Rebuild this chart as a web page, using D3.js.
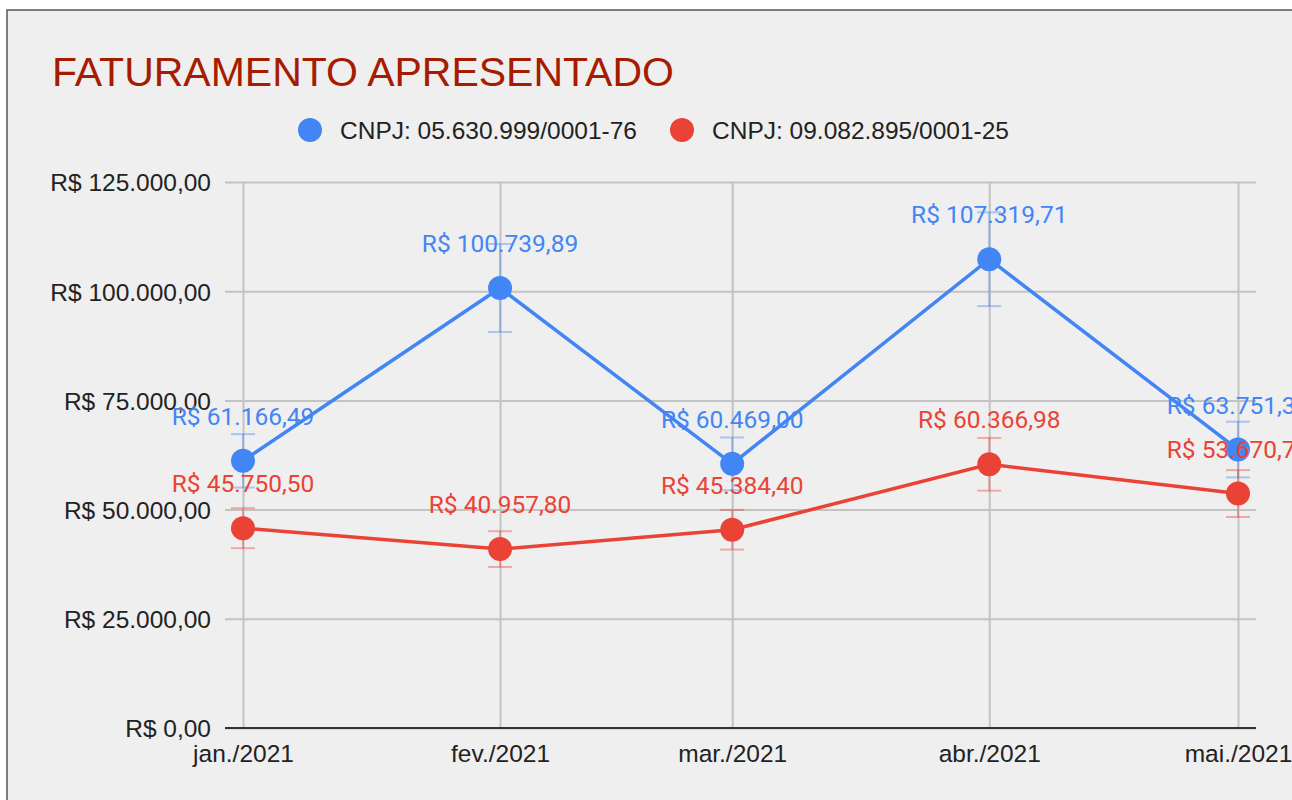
<!DOCTYPE html>
<html>
<head>
<meta charset="utf-8">
<script src="https://cdn.jsdelivr.net/npm/d3@7"></script>
<style>
  body { margin: 0; background: #fff; }
  svg { display: block; }
  .tick text { font-family: "Liberation Sans", Arial, sans-serif; fill: #222; }
</style>
</head>
<body>
<svg class="chart" width="1292" height="800"></svg>
<script>
/**********************
 Data
**********************/
var months = ['jan./2021', 'fev./2021', 'mar./2021', 'abr./2021', 'mai./2021'];
var monthDates = ['2021-01-01', '2021-02-01', '2021-03-01', '2021-04-01', '2021-05-01'];
var seriesNames = ['CNPJ: 05.630.999/0001-76', 'CNPJ: 09.082.895/0001-25'];
var valuesA = [61166.49, 100739.89, 60469.00, 107319.71, 63751.32];
var valuesB = [45750.50, 40957.80, 45384.40, 60366.98, 53670.75];
var yTicks = [0, 25000, 50000, 75000, 100000, 125000];
var colors = ['#4285f4', '#ea4335'];
var errorPct = 0.10;

var series = [valuesA, valuesB].map(function(vals, i) {
  return {
    name: seriesNames[i],
    color: colors[i],
    points: vals.map(function(v, j) {
      return {date: d3.isoParse(monthDates[j]), value: v};
    })
  };
});

/**********************
 SVG setup
**********************/
var svg = d3.select('svg.chart');
var svgWidth = +svg.attr('width');
var svgHeight = +svg.attr('height');

// gray card with a dark border on top/left
svg.append('rect')
  .attr('x', 7).attr('y', 10)
  .attr('width', svgWidth).attr('height', svgHeight)
  .attr('fill', '#efefef')
  .attr('stroke', '#555')
  .attr('stroke-width', 1.5);

var plot = {l: 225, r: 1256, t: 182, b: 728};
var xLeft = 243, xRight = 1238;

var ptBR = d3.formatLocale({
  decimal: ',', thousands: '.', grouping: [3], currency: ['R$ ', '']
});
var money = ptBR.format('$,.2f');

var xScale = d3.scaleTime()
  .domain([d3.isoParse(monthDates[0]), d3.isoParse(monthDates[monthDates.length - 1])])
  .range([xLeft, xRight]);
var yScale = d3.scaleLinear()
  .domain([0, 125000])
  .range([plot.b, plot.t]);

/**********************
 Title and legend
**********************/
svg.append('text')
  .attr('x', 52).attr('y', 86)
  .style('font-family', '"Liberation Sans", Arial, sans-serif')
  .style('font-size', '41px')
  .attr('fill', '#a61c00')
  .text('FATURAMENTO APRESENTADO');

var legendX = [310, 682];
var legend = svg.selectAll('.legend')
  .data(series)
  .enter().append('g')
  .attr('class', 'legend')
  .attr('transform', function(d, i) { return 'translate(' + [legendX[i], 130] + ')'; });
legend.append('circle')
  .attr('r', 12)
  .attr('fill', function(d) { return d.color; });
legend.append('text')
  .attr('x', 30).attr('y', 8.5)
  .style('font-family', '"Liberation Sans", Arial, sans-serif')
  .style('font-size', '24.5px')
  .attr('fill', '#222')
  .text(function(d) { return d.name; });

/**********************
 Axes and grid
**********************/
var yAxisG = svg.append('g')
  .attr('class', 'y axis')
  .attr('transform', 'translate(' + plot.l + ',0)')
  .call(d3.axisLeft(yScale)
    .tickValues(yTicks)
    .tickSize(-(plot.r - plot.l))
    .tickPadding(14)
    .tickFormat(money));
yAxisG.select('.domain').remove();
yAxisG.selectAll('.tick line').attr('stroke', '#c3c3c3').attr('stroke-width', 2);
yAxisG.selectAll('.tick text').style('font-size', '24.5px').attr('dy', '0.36em');

var xAxisG = svg.append('g')
  .attr('class', 'x axis')
  .attr('transform', 'translate(0,' + plot.b + ')')
  .call(d3.axisBottom(xScale)
    .tickValues(monthDates.map(d3.isoParse))
    .tickSize(-(plot.b - plot.t))
    .tickPadding(12)
    .tickFormat(function(d, i) { return months[i]; }));
xAxisG.select('.domain').remove();
xAxisG.selectAll('.tick line').attr('stroke', '#c3c3c3').attr('stroke-width', 2);
xAxisG.selectAll('.tick text').style('font-size', '24.5px').attr('dy', '0.88em');

// baseline
svg.append('line')
  .attr('x1', plot.l).attr('x2', plot.r)
  .attr('y1', yScale(0)).attr('y2', yScale(0))
  .attr('stroke', '#333').attr('stroke-width', 2);

/**********************
 Series
**********************/
var line = d3.line()
  .x(function(d) { return xScale(d.date); })
  .y(function(d) { return yScale(d.value); });

var seriesG = svg.selectAll('.series')
  .data(series)
  .enter().append('g')
  .attr('class', 'series');

// error bars (+/- 10%)
var err = seriesG.selectAll('.err')
  .data(function(d) { return d.points.map(function(p) { return {p: p, color: d.color}; }); })
  .enter().append('g')
  .attr('class', 'err')
  .attr('stroke', function(d) { return d.color; })
  .attr('stroke-opacity', 0.4)
  .attr('stroke-width', 2);
err.append('line')
  .attr('x1', function(d) { return xScale(d.p.date); })
  .attr('x2', function(d) { return xScale(d.p.date); })
  .attr('y1', function(d) { return yScale(d.p.value * (1 + errorPct)); })
  .attr('y2', function(d) { return yScale(d.p.value * (1 - errorPct)); });
[1 + errorPct, 1 - errorPct].forEach(function(k) {
  err.append('line')
    .attr('x1', function(d) { return xScale(d.p.date) - 12; })
    .attr('x2', function(d) { return xScale(d.p.date) + 12; })
    .attr('y1', function(d) { return yScale(d.p.value * k); })
    .attr('y2', function(d) { return yScale(d.p.value * k); });
});

seriesG.append('path')
  .attr('d', function(d) { return line(d.points); })
  .attr('fill', 'none')
  .attr('stroke', function(d) { return d.color; })
  .attr('stroke-width', 3.5);

seriesG.selectAll('.dot')
  .data(function(d) { return d.points; })
  .enter().append('circle')
  .attr('class', 'dot')
  .attr('cx', function(d) { return xScale(d.date); })
  .attr('cy', function(d) { return yScale(d.value); })
  .attr('r', 12)
  .attr('fill', function() { return d3.select(this.parentNode).datum().color; });

seriesG.selectAll('.label')
  .data(function(d) { return d.points; })
  .enter().append('text')
  .attr('class', 'label')
  .attr('x', function(d) { return xScale(d.date); })
  .attr('y', function(d) { return yScale(d.value) - 36; })
  .attr('text-anchor', 'middle')
  .style('font-family', 'Roboto, sans-serif')
  .style('font-size', '24.5px')
  .attr('fill', function() { return d3.select(this.parentNode).datum().color; })
  .text(function(d) { return money(d.value); });
</script>
</body>
</html>
